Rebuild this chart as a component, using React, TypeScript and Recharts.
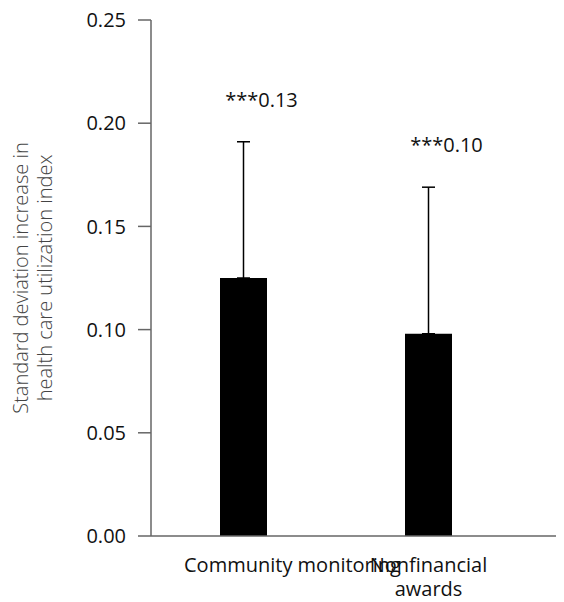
import React from "react";
import { ComposedChart, Bar, XAxis, YAxis, ErrorBar, LabelList } from "recharts";

const categories = ["Community monitoring", "Nonfinancial awards"];
const categoryLines = [["Community monitoring"], ["Nonfinancial", "awards"]];
const values = [0.125, 0.098];
const upperBounds = [0.191, 0.169];
const valueLabels = ["***0.13", "***0.10"];
const yTicks = [0, 0.05, 0.1, 0.15, 0.2, 0.25];
const yLabelLines = ["Standard deviation increase in", "health care utilization index"];

const data = categories.map((c, i) => ({
  name: c,
  value: values[i],
  upper: upperBounds[i],
  err: [0, upperBounds[i] - values[i]],
  label: valueLabels[i],
}));

const FONT = "'Open Sans', 'Noto Sans', sans-serif";

const XTick = (props: any) => {
  const { x, y, payload, index } = props;
  const lines = categoryLines[index] || [payload.value];
  const dx = index === 0 ? 49 : 0;
  return (
    <text x={x + dx} y={y} textAnchor="middle" fontFamily={FONT} fontSize={20} fill="#111">
      {lines.map((l: string, i: number) => (
        <tspan key={i} x={x + dx} dy={i === 0 ? 36 : 24}>
          {l}
        </tspan>
      ))}
    </text>
  );
};

const TopLabel = (props: any) => {
  const { x, y, width, height, index } = props;
  const d = data[index];
  if (!d) return null;
  const pxPerUnit = height / d.value;
  const errTop = y - (d.upper - d.value) * pxPerUnit;
  return (
    <text
      x={x + width / 2 + 18}
      y={errTop - 35}
      textAnchor="middle"
      fontFamily={FONT}
      fontSize={20}
      fill="#111"
    >
      {d.label}
    </text>
  );
};

const YLabel = (props: any) => {
  const { viewBox } = props;
  const cy = viewBox.y + viewBox.height / 2;
  const xs = [12, 36];
  return (
    <g>
      {yLabelLines.map((l, i) => (
        <text
          key={i}
          x={xs[i]}
          y={cy}
          transform={`rotate(-90, ${xs[i]}, ${cy})`}
          textAnchor="middle"
          dominantBaseline="central"
          fontFamily={FONT}
          fontWeight={300}
          fontSize={20}
          fill="#444"
        >
          {l}
        </text>
      ))}
    </g>
  );
};

export default function App() {
  return (
    <ComposedChart
      width={556}
      height={594}
      data={data}
      margin={{ top: 12, right: 0, bottom: 36, left: 0 }}
    >
      <XAxis
        dataKey="name"
        type="category"
        height={30}
        padding={{ left: 0, right: 43 }}
        axisLine={{ stroke: "#666", strokeWidth: 1.5 }}
        tickLine={false}
        tickSize={0}
        tickMargin={0}
        tick={<XTick />}
        interval={0}
      />
      <YAxis
        width={143}
        domain={[0, 0.25]}
        ticks={yTicks}
        tickFormatter={(v: number) => v.toFixed(2)}
        axisLine={{ stroke: "#666", strokeWidth: 1.5 }}
        tickLine={{ stroke: "#666", strokeWidth: 1.5 }}
        tickSize={13}
        tickMargin={12}
        tick={{ fontFamily: FONT, fontSize: 20, fill: "#111" }}
        label={<YLabel />}
      />
      <Bar dataKey="value" fill="#000" barSize={47} isAnimationActive={false}>
        <ErrorBar dataKey="err" direction="y" width={6.5} stroke="#000" strokeWidth={1.5} />
        <LabelList dataKey="label" content={<TopLabel />} />
      </Bar>
    </ComposedChart>
  );
}
